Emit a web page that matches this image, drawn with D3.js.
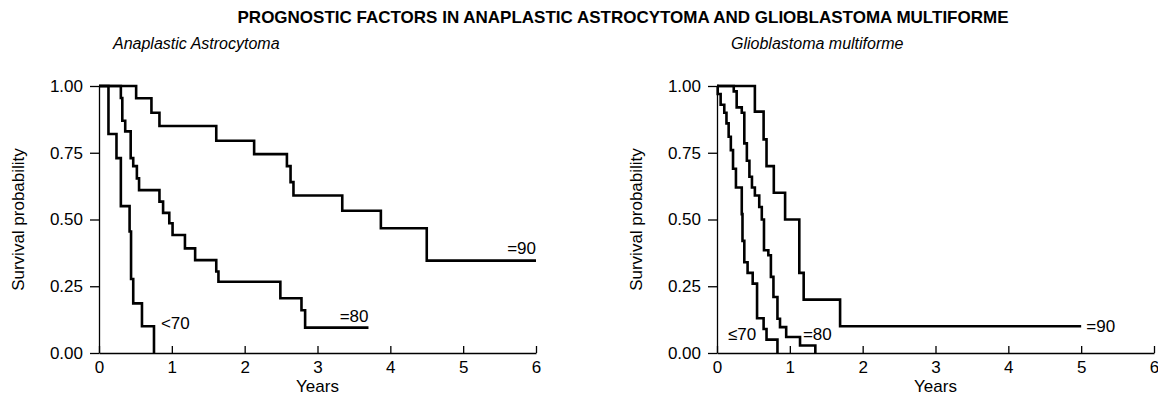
<!DOCTYPE html>
<html>
<head>
<meta charset="utf-8">
<script src="https://cdn.jsdelivr.net/npm/d3@7"></script>
<style>
  body { margin: 0; background: #fff; }
  svg { font-family: "Liberation Sans", Arial, sans-serif; }
  .axis path, .axis line { stroke: #000; stroke-width: 1.3; }
  .axis text { font-size: 17px; fill: #000; }
</style>
</head>
<body>
<div class="graphHere"></div>
<script>
// anaplastic astrocytoma, Karnofsky groups
var aaTime90 = [0, 0.51, 0.72, 0.83, 1.61, 2.13, 2.58, 2.63, 2.67, 3.34, 3.87, 4.50, 6.0];
var aaSurv90 = [1, 0.954, 0.90, 0.85, 0.795, 0.745, 0.70, 0.64, 0.59, 0.533, 0.467, 0.346, 0.346];
var aaTime80 = [0, 0.30, 0.32, 0.36, 0.435, 0.47, 0.52, 0.55, 0.83, 0.88, 0.965, 1.01, 1.18, 1.32, 1.61, 1.64, 2.49, 2.78, 2.83, 3.70];
var aaSurv80 = [1, 0.955, 0.87, 0.83, 0.73, 0.70, 0.654, 0.61, 0.567, 0.525, 0.486, 0.442, 0.392, 0.348, 0.305, 0.267, 0.205, 0.16, 0.095, 0.095];
var aaTime70 = [0, 0.13, 0.24, 0.30, 0.42, 0.44, 0.47, 0.59, 0.755];
var aaSurv70 = [1, 0.82, 0.73, 0.55, 0.455, 0.277, 0.186, 0.10, 0];

// glioblastoma multiforme
var gbTime90 = [0, 0.52, 0.64, 0.68, 0.78, 0.935, 1.13, 1.19, 1.69, 5.0];
var gbSurv90 = [1, 0.904, 0.80, 0.70, 0.60, 0.50, 0.30, 0.20, 0.10, 0.10];
var gbTime80 = [0, 0.23, 0.27, 0.34, 0.375, 0.41, 0.445, 0.48, 0.52, 0.58, 0.615, 0.645, 0.705, 0.74, 0.775, 0.83, 0.865, 0.95, 1.14, 1.35];
var gbSurv80 = [1, 0.98, 0.92, 0.90, 0.785, 0.72, 0.66, 0.62, 0.59, 0.547, 0.50, 0.385, 0.366, 0.285, 0.21, 0.128, 0.097, 0.06, 0.028, 0];
var gbTime70 = [0, 0.01, 0.05, 0.10, 0.13, 0.16, 0.19, 0.22, 0.26, 0.34, 0.35, 0.375, 0.42, 0.49, 0.55, 0.64, 0.68, 0.83];
var gbSurv70 = [1, 0.97, 0.93, 0.90, 0.86, 0.81, 0.76, 0.69, 0.62, 0.52, 0.42, 0.34, 0.30, 0.26, 0.13, 0.09, 0.05, 0];

var yearTicks = [0, 1, 2, 3, 4, 5, 6];
var survTicks = [0, 0.25, 0.5, 0.75, 1];

var svg = d3.select(".graphHere").append("svg")
  .attr("width", 1158)
  .attr("height", 410);

svg.append("text")
  .attr("x", 623).attr("y", 23)
  .attr("text-anchor", "middle")
  .style("font-size", "17px").style("font-weight", "bold")
  .text("PROGNOSTIC FACTORS IN ANAPLASTIC ASTROCYTOMA AND GLIOBLASTOMA MULTIFORME");

function zip(t, s){
  return t.map(function(d, i){ return [d, s[i]]; });
}

function panel(opts){
  var x = d3.scaleLinear().domain([0, 6]).range([opts.left, opts.left + 437]);
  var y = d3.scaleLinear().domain([0, 1]).range([353, 86]);
  var g = svg.append("g");

  g.append("text")
    .attr("x", opts.left + 14).attr("y", 49)
    .style("font-size", "16px").style("font-style", "italic")
    .text(opts.title);

  g.append("g").attr("class", "axis")
    .attr("transform", "translate(" + opts.left + ",0)")
    .call(d3.axisLeft(y).tickValues(survTicks).tickFormat(d3.format(".2f"))
      .tickSize(9).tickSizeOuter(0).tickPadding(7));

  g.append("g").attr("class", "axis")
    .attr("transform", "translate(0," + y(0) + ")")
    .call(d3.axisBottom(x).tickValues(yearTicks).tickFormat(d3.format("d"))
      .tickSize(-7).tickSizeOuter(0).tickPadding(8));

  g.append("text")
    .attr("transform", "translate(" + (opts.left - 75) + "," + y(0.5) + ") rotate(-90)")
    .attr("text-anchor", "middle")
    .style("font-size", "17px")
    .text("Survival probability");

  g.append("text")
    .attr("x", x(3)).attr("y", 392)
    .attr("text-anchor", "middle")
    .style("font-size", "17px")
    .text("Years");

  var line = d3.line()
    .x(function(d){ return x(d[0]); })
    .y(function(d){ return y(d[1]); })
    .curve(d3.curveStepAfter);

  opts.curves.forEach(function(c){
    g.append("path")
      .datum(zip(c.t, c.s))
      .attr("d", line)
      .attr("fill", "none")
      .attr("stroke", "#000")
      .attr("stroke-width", 2.6)
      .attr("stroke-linejoin", "miter");
    g.append("text")
      .attr("x", x(c.lx)).attr("y", y(c.ly))
      .attr("text-anchor", c.anchor)
      .style("font-size", "17px")
      .text(c.label);
  });
}

panel({
  left: 99,
  title: "Anaplastic Astrocytoma",
  curves: [
    {t: aaTime90, s: aaSurv90, label: "=90", lx: 6.0, ly: 0.37, anchor: "end"},
    {t: aaTime80, s: aaSurv80, label: "=80", lx: 3.70, ly: 0.115, anchor: "end"},
    {t: aaTime70, s: aaSurv70, label: "<70", lx: 0.85, ly: 0.09, anchor: "start"}
  ]
});

panel({
  left: 717,
  title: "Glioblastoma multiforme",
  curves: [
    {t: gbTime90, s: gbSurv90, label: "=90", lx: 5.07, ly: 0.078, anchor: "start"},
    {t: gbTime80, s: gbSurv80, label: "=80", lx: 1.18, ly: 0.047, anchor: "start"},
    {t: gbTime70, s: gbSurv70, label: "\u226470", lx: 0.15, ly: 0.047, anchor: "start"}
  ]
});
</script>
</body>
</html>
